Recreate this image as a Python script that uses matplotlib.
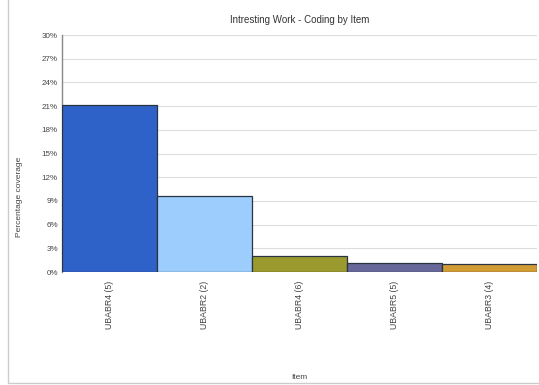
import matplotlib
matplotlib.use('Agg')
import matplotlib.pyplot as plt
from matplotlib.patches import Rectangle
from matplotlib.ticker import PercentFormatter

items = ['UBABR4 (5)', 'UBABR2 (2)', 'UBABR4 (6)', 'UBABR5 (5)', 'UBABR3 (4)']
coverage = [21.1, 9.6, 2.05, 1.15, 0.95]
colors = ['#2f62c9', '#9dcdfc', '#9a9a2e', '#67679a', '#d29c34']
yticks = [0, 3, 6, 9, 12, 15, 18, 21, 24, 27, 30]

plt.rcParams['font.family'] = 'Liberation Sans'

fig = plt.figure(figsize=(5.39, 3.85), dpi=100)
ax = fig.add_axes([0.115, 0.2935, 0.881, 0.6155])

x = range(len(items))
ax.bar(x, coverage, width=1.0, color=colors, edgecolor='#2a3340', linewidth=0.9, zorder=3)

ax.set_xlim(-0.5, len(items) - 0.5)
ax.set_ylim(0, 30)
ax.set_yticks(yticks)
ax.yaxis.set_major_formatter(PercentFormatter(decimals=0))
ax.set_xticks(list(x))
ax.set_xticklabels(items, rotation=90, fontsize=6.3, color='#444444')
ax.tick_params(axis='y', labelsize=5.8, colors='#444444', length=0, pad=3)
ax.tick_params(axis='x', length=0, pad=6)
ax.grid(axis='y', color='#dddddd', linewidth=0.8, zorder=0)

for s in ['top', 'right', 'bottom']:
    ax.spines[s].set_visible(False)
ax.spines['left'].set_color('#888888')
ax.spines['left'].set_linewidth(1.0)

ax.set_title('Intresting Work - Coding by Item', fontsize=7, color='#333333', pad=9)
ax.set_ylabel('Percentage coverage', fontsize=6, color='#444444')
ax.yaxis.set_label_coords(-0.082, 0.316)
ax.set_xlabel('Item', fontsize=6, color='#444444')
ax.xaxis.set_label_coords(0.5, -0.43)

# light frame around the chart
fig.patches.append(Rectangle((8 / 539, 2 / 385), 1, 1, transform=fig.transFigure,
                             fill=False, edgecolor='#cccccc', linewidth=1.0))

fig.savefig('out.png', dpi=100)
